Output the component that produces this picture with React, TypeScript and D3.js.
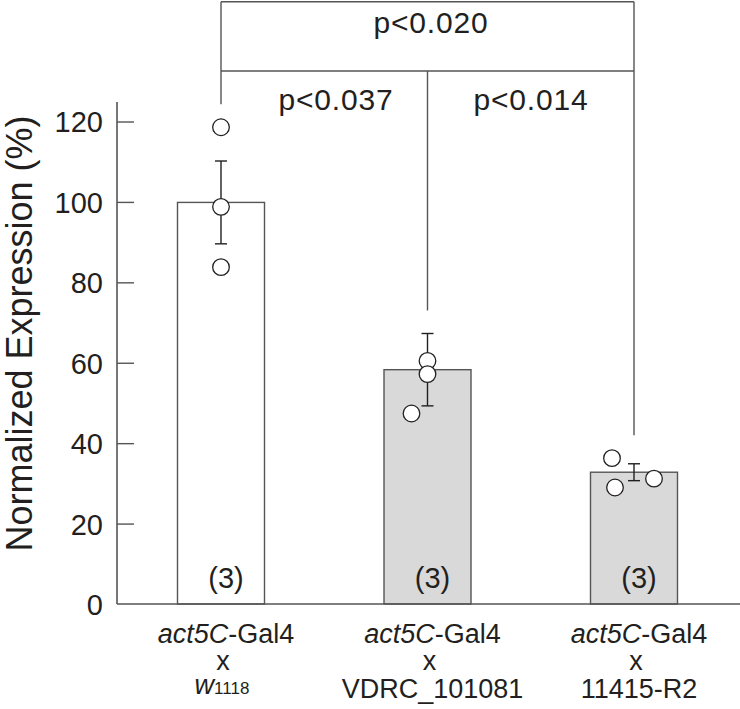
import React from "react";
import * as d3 from "d3";

const categories = ["w1118", "VDRC_101081", "11415-R2"];
const means = [100, 58.4, 32.9];
const sems = [10.3, 9.0, 2.1];
const points = [
  [118.7, 98.9, 83.9],
  [60.6, 57.3, 47.5],
  [36.4, 29.1, 31.3],
];
const pointJitter = [
  [0, 0, 0],
  [0, 0, -16],
  [-22, -19, 20],
];
const nLabels = ["(3)", "(3)", "(3)"];
const barFills = ["#ffffff", "#d9d9d9", "#d9d9d9"];
const yTicks = [0, 20, 40, 60, 80, 100, 120];
const pTop = "p<0.020";
const pLeft = "p<0.037";
const pRight = "p<0.014";

const W = 740;
const H = 709;
const FONT = "'Liberation Sans', Arial, Helvetica, sans-serif";
const INK = "#231f20";
const LINE = "#555555";

export default function App() {
  const y = d3.scaleLinear().domain([0, 125]).range([604.5, 101.9]);
  const x = d3.scalePoint<string>().domain(categories).range([221, 634]);
  const barW = 87;
  const axisX = 117;
  const baseY = y(0) - 0.5;

  const tops = categories.map((_, i) =>
    y(Math.max(d3.max(points[i]) as number, means[i] + sems[i])) - 23
  );
  const cx = categories.map((c) => x(c) as number);

  return (
    <svg width={W} height={H} style={{ display: "block", position: "absolute", left: 0, top: 0 }}>
      <rect width={W} height={H} fill="#fff" />
      {/* bars */}
      {categories.map((c, i) => (
        <rect
          key={c}
          x={cx[i] - barW / 2}
          y={y(means[i])}
          width={barW}
          height={baseY - y(means[i])}
          fill={barFills[i]}
          stroke={LINE}
          strokeWidth={1.4}
        />
      ))}
      {/* axes */}
      <line x1={axisX} x2={W} y1={baseY} y2={baseY} stroke={LINE} strokeWidth={1.6} />
      <line x1={axisX} x2={axisX} y1={y(125)} y2={baseY} stroke={LINE} strokeWidth={1.6} />
      {yTicks.map((t) => (
        <g key={t}>
          {t > 0 && (
            <line x1={axisX} x2={axisX + 17} y1={y(t)} y2={y(t)} stroke={LINE} strokeWidth={1.4} />
          )}
          <text
            x={103}
            y={y(t)}
            dy="0.36em"
            textAnchor="end"
            fontFamily={FONT}
            fontSize={29}
            fill={INK}
          >
            {t}
          </text>
        </g>
      ))}
      <text
        transform={`translate(32, ${(107 + 560) / 2}) rotate(-90)`}
        textAnchor="middle"
        fontFamily={FONT}
        fontSize={36}
        fill={INK}
      >
        Normalized Expression (%)
      </text>
      {/* error bars */}
      {categories.map((c, i) => {
        const t = y(means[i] + sems[i]);
        const b = y(means[i] - sems[i]);
        return (
          <g key={c} stroke={INK} strokeWidth={1.4}>
            <line x1={cx[i]} x2={cx[i]} y1={t} y2={b} />
            <line x1={cx[i] - 6} x2={cx[i] + 6} y1={t} y2={t} />
            <line x1={cx[i] - 6} x2={cx[i] + 6} y1={b} y2={b} />
          </g>
        );
      })}
      {/* points */}
      {categories.map((c, i) =>
        points[i].map((v, j) => (
          <circle
            key={c + j}
            cx={cx[i] + pointJitter[i][j]}
            cy={y(v)}
            r={8.3}
            fill="#fff"
            stroke={INK}
            strokeWidth={1.3}
          />
        ))
      )}
      {/* n labels */}
      {categories.map((c, i) => (
        <text
          key={c}
          x={cx[i] + 5}
          y={588}
          textAnchor="middle"
          fontFamily={FONT}
          fontSize={29}
          fill={INK}
        >
          {nLabels[i]}
        </text>
      ))}
      {/* x labels */}
      {categories.map((c, i) => (
        <g key={c} fontFamily={FONT} fontSize={27} fill={INK} textAnchor="middle">
          <text x={cx[i] + 5} y={643}>
            <tspan fontStyle="italic">act5C</tspan>
            <tspan>-Gal4</tspan>
          </text>
          <text x={cx[i] + 2} y={670}>
            x
          </text>
          {i === 0 ? (
            <text x={cx[i] + 1} y={694}>
              <tspan fontStyle="italic">w</tspan>
              <tspan fontSize={17}>1118</tspan>
            </text>
          ) : (
            <text x={cx[i] + 5} y={698}>
              {c}
            </text>
          )}
        </g>
      ))}
      {/* significance brackets */}
      <g stroke={LINE} strokeWidth={1.4} fill="none">
        <line x1={cx[0]} x2={cx[2]} y1={1.7} y2={1.7} />
        <line x1={cx[0]} x2={cx[2]} y1={71} y2={71} />
        <line x1={cx[0]} x2={cx[0]} y1={1.7} y2={tops[0]} />
        <line x1={cx[2]} x2={cx[2]} y1={1.7} y2={tops[2]} />
        <line x1={cx[1]} x2={cx[1]} y1={71} y2={tops[1]} />
      </g>
      <g fontFamily={FONT} fontSize={30} fill={INK} textAnchor="middle" letterSpacing={0.8}>
        <text x={431} y={33}>
          {pTop}
        </text>
        <text x={336} y={110}>
          {pLeft}
        </text>
        <text x={531} y={110}>
          {pRight}
        </text>
      </g>
    </svg>
  );
}
